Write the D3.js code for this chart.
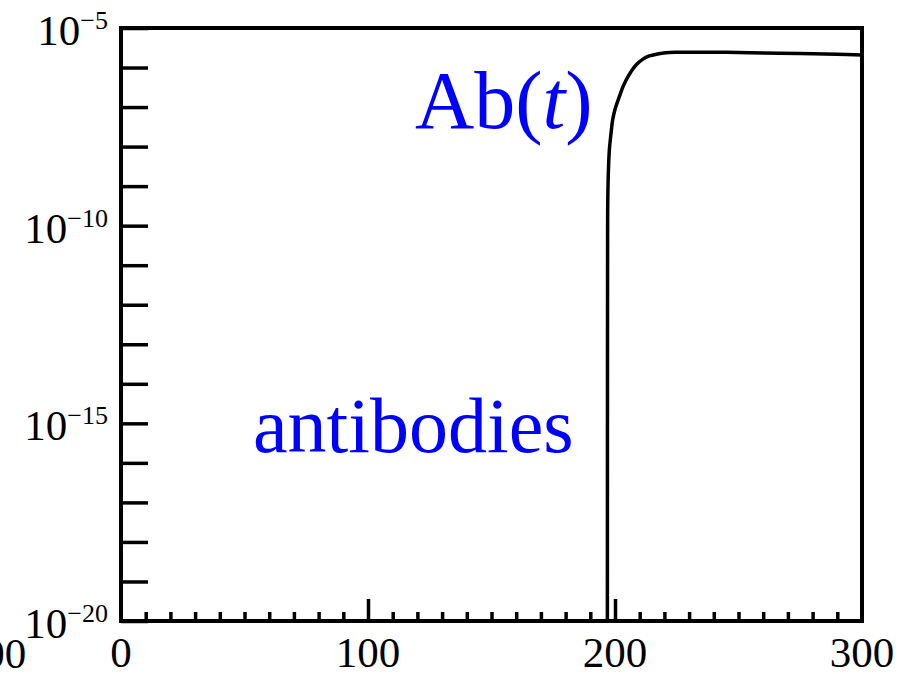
<!DOCTYPE html>
<html>
<head>
<meta charset="utf-8">
<script src="https://cdn.jsdelivr.net/npm/d3@7"></script>
<style>
  html, body { margin: 0; padding: 0; background: #fff; }
  svg { display: block; }
  text { font-family: "Liberation Serif", "Times New Roman", serif; }
</style>
</head>
<body>
<svg id="chart" width="903" height="674"></svg>
<script>
// Antibody concentration Ab(t) over time (log scale)
const times  = [196.9, 196.95, 197.0, 197.05, 197.3, 197.71, 198.39, 199.04, 200.13, 201.75, 203.08, 204.46, 206.48, 208.5, 211.17, 213.88, 217.24, 220.63, 224.67, 230, 245, 260, 275, 290, 300];
const values = [1e-22, 1e-14, 4.3e-11, 3.0e-10, 2.11e-9, 8.2e-9, 2.17e-8, 4.71e-8, 9.31e-8, 1.83e-7, 3.09e-7, 4.78e-7, 7.85e-7, 1.16e-6, 1.61e-6, 1.96e-6, 2.2e-6, 2.37e-6, 2.43e-6, 2.43e-6, 2.42e-6, 2.33e-6, 2.25e-6, 2.16e-6, 2.08e-6];

const xMajorTicks = [0, 100, 200, 300];
const xInnerMajor = [100, 200];
const xMinorTicks = d3.range(10, 300, 10).filter(v => v % 100 !== 0);
const yDecades = d3.range(-20, -4).map(e => Math.pow(10, e));
const yLabelExps = [-5, -10, -15, -20];

const svg = d3.select("#chart");
const plotLeft = 121, plotRight = 862, plotTop = 28, plotBottom = 621;

const x = d3.scaleLinear().domain([0, 300]).range([plotLeft, plotRight]);
const y = d3.scaleLog().domain([1e-20, 1e-5]).range([plotBottom, plotTop]);

svg.append("defs").append("clipPath").attr("id", "plotClip")
  .append("rect").attr("x", plotLeft).attr("y", plotTop)
  .attr("width", plotRight - plotLeft).attr("height", plotBottom - plotTop);

// curve
const pts = times.map((t, i) => [t, values[i]]);
const line = d3.line()
  .x(d => x(d[0]))
  .y(d => y(d[1]))
  .curve(d3.curveCatmullRom.alpha(0.5));

svg.append("path")
  .datum(pts)
  .attr("clip-path", "url(#plotClip)")
  .attr("d", line)
  .attr("fill", "none")
  .attr("stroke", "#000")
  .attr("stroke-width", 3.5)
  .attr("stroke-linejoin", "round");

// y ticks (inward)
const yAxis = d3.axisLeft(y).tickValues(yDecades).tickSize(-27).tickFormat("");
const gy = svg.append("g").attr("transform", `translate(${plotLeft},0)`).call(yAxis);
gy.select(".domain").remove();
gy.selectAll(".tick line").attr("stroke", "#000").attr("stroke-width", 3.5);

// x minor ticks
const xMinor = d3.axisBottom(x).tickValues(xMinorTicks).tickSize(-9).tickFormat("");
const gxm = svg.append("g").attr("transform", `translate(0,${plotBottom})`).call(xMinor);
gxm.select(".domain").remove();
gxm.selectAll(".tick line").attr("stroke", "#000").attr("stroke-width", 3.5);

// x major ticks
const xMajor = d3.axisBottom(x).tickValues(xInnerMajor).tickSize(-22).tickFormat("");
const gxM = svg.append("g").attr("transform", `translate(0,${plotBottom})`).call(xMajor);
gxM.select(".domain").remove();
gxM.selectAll(".tick line").attr("stroke", "#000").attr("stroke-width", 3.5);

// frame
svg.append("rect")
  .attr("x", plotLeft).attr("y", plotTop)
  .attr("width", plotRight - plotLeft).attr("height", plotBottom - plotTop)
  .attr("fill", "none").attr("stroke", "#000").attr("stroke-width", 4);

// y labels
const yl = svg.append("g").selectAll("text").data(yLabelExps).join("text")
  .attr("x", 108)
  .attr("y", e => y(Math.pow(10, e)) + 17)
  .attr("text-anchor", "end")
  .attr("font-size", 43)
  .attr("fill", "#000");
yl.append("tspan").text("10");
yl.append("tspan").attr("dy", -16).attr("font-size", 26).text(e => "\u2212" + Math.abs(e));

// x labels
svg.append("g").selectAll("text").data(xMajorTicks).join("text")
  .attr("x", d => x(d))
  .attr("y", 667)
  .attr("text-anchor", "middle")
  .attr("font-size", 43)
  .attr("fill", "#000")
  .text(d => d);

// trailing label of the neighbouring panel
svg.append("text")
  .attr("x", -6).attr("y", 668)
  .attr("text-anchor", "middle")
  .attr("font-size", 43)
  .attr("fill", "#000")
  .text("300");

// annotations
const ab = svg.append("text")
  .attr("x", 415).attr("y", 128)
  .attr("font-size", 82)
  .attr("fill", "#0000ff");
ab.append("tspan").text("Ab(");
ab.append("tspan").attr("font-style", "italic").text("t");
ab.append("tspan").text(")");

svg.append("text")
  .attr("x", 253).attr("y", 452)
  .attr("font-size", 78)
  .attr("fill", "#0000ff")
  .text("antibodies");
</script>
</body>
</html>
